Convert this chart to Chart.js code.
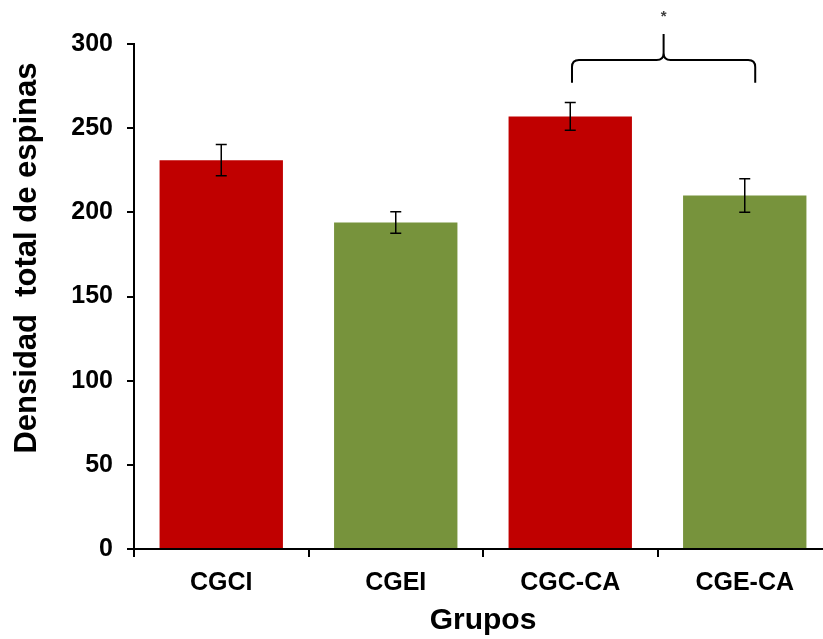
<!DOCTYPE html>
<html>
<head>
<meta charset="utf-8">
<script src="https://cdn.jsdelivr.net/npm/chart.js@4/dist/chart.umd.min.js"></script>
<style>
  html, body { margin: 0; padding: 0; background: #fff; overflow: hidden; }
  #wrap { width: 840px; height: 639px; position: relative; }
</style>
</head>
<body>
<div id="wrap"><canvas id="c"></canvas></div>
<script>
// ---- data ----
const categories = ['CGCI', 'CGEI', 'CGC-CA', 'CGE-CA'];
const values = [231, 194, 257, 210];
const errors = [9.3, 6.4, 8.2, 9.9];
const barColors = ['#C00000', '#77933C', '#C00000', '#77933C'];
const yTickValues = [0, 50, 100, 150, 200, 250, 300];
const yTitle = 'Densidad  total de espinas';
const xTitle = 'Grupos';
// significance brace between CGC-CA and CGE-CA (category positions, value levels)
const braceFrom = 2.01, braceTo = 3.06;
const braceEndValue = 277, braceLineValue = 290.5, bracePeakValue = 306, starValue = 318;
const starText = '*';

const FONT = '"Liberation Sans", Arial, sans-serif';

const errorBars = {
  id: 'errorBars',
  afterDatasetsDraw(chart) {
    const ctx = chart.ctx;
    const y = chart.scales.y;
    const meta = chart.getDatasetMeta(0);
    ctx.save();
    ctx.strokeStyle = '#000';
    ctx.lineWidth = 1.5;
    meta.data.forEach((bar, i) => {
      const x = bar.x;
      const yt = y.getPixelForValue(values[i] + errors[i]);
      const yb = y.getPixelForValue(values[i] - errors[i]);
      ctx.beginPath();
      ctx.moveTo(x, yt); ctx.lineTo(x, yb);
      ctx.moveTo(x - 5.5, yt); ctx.lineTo(x + 5.5, yt);
      ctx.moveTo(x - 5.5, yb); ctx.lineTo(x + 5.5, yb);
      ctx.stroke();
    });
    ctx.restore();
  }
};

const annotations = {
  id: 'annotations',
  afterDraw(chart) {
    const ctx = chart.ctx;
    const xs = chart.scales.x, ys = chart.scales.y;
    // y axis title
    ctx.save();
    ctx.fillStyle = '#000';
    ctx.font = 'bold 31px ' + FONT;
    ctx.textAlign = 'center';
    ctx.textBaseline = 'middle';
    ctx.translate(27, 258);
    ctx.rotate(-Math.PI / 2);
    ctx.fillText(yTitle, 0, 0);
    ctx.restore();

    // brace
    const x1 = xs.getPixelForValue(braceFrom);
    const x2 = xs.getPixelForValue(braceTo);
    const xm = (x1 + x2) / 2;
    const yE = ys.getPixelForValue(braceEndValue);
    const yH = ys.getPixelForValue(braceLineValue);
    const yP = ys.getPixelForValue(bracePeakValue);
    const r = 7;
    ctx.save();
    ctx.strokeStyle = '#000';
    ctx.lineWidth = 2;
    ctx.beginPath();
    ctx.moveTo(x1, yE);
    ctx.lineTo(x1, yH + r);
    ctx.quadraticCurveTo(x1, yH, x1 + r, yH);
    ctx.lineTo(xm - r, yH);
    ctx.quadraticCurveTo(xm, yH, xm, yH - r);
    ctx.lineTo(xm, yP);
    ctx.moveTo(xm, yH - r);
    ctx.quadraticCurveTo(xm, yH, xm + r, yH);
    ctx.lineTo(x2 - r, yH);
    ctx.quadraticCurveTo(x2, yH, x2, yH + r);
    ctx.lineTo(x2, yE);
    ctx.stroke();
    ctx.fillStyle = '#404040';
    ctx.font = 'bold 15px ' + FONT;
    ctx.textAlign = 'center';
    ctx.textBaseline = 'middle';
    ctx.fillText(starText, xm, ys.getPixelForValue(starValue) + 3);
    ctx.restore();
  }
};

new Chart(document.getElementById('c'), {
  type: 'bar',
  data: {
    labels: categories,
    datasets: [{
      data: values,
      backgroundColor: barColors,
      borderWidth: 0,
      categoryPercentage: 1.0,
      barPercentage: 0.707
    }]
  },
  options: {
    responsive: true,
    maintainAspectRatio: false,
    animation: false,
    devicePixelRatio: 1,
    layout: { padding: { top: 44, right: 8, bottom: 0, left: 0 } },
    plugins: { legend: { display: false }, tooltip: { enabled: false } },
    scales: {
      x: {
        afterFit: s => { s.height = 90; },
        grid: { display: true, drawOnChartArea: false, color: '#000', lineWidth: 2, tickLength: 8, offset: true },
        border: { display: true, color: '#000', width: 2 },
        ticks: { color: '#000', font: { family: FONT, size: 25, weight: 'bold' }, padding: 11 },
        title: { display: true, text: xTitle, color: '#000', font: { family: FONT, size: 30, weight: 'bold' }, padding: { top: 0, bottom: 0 } }
      },
      y: {
        min: 0, max: 300,
        afterFit: s => { s.width = 134; },
        afterBuildTicks: s => { s.ticks = yTickValues.map(v => ({ value: v })); },
        grid: { display: true, drawOnChartArea: false, color: '#000', lineWidth: 2, tickLength: 7 },
        border: { display: true, color: '#000', width: 2 },
        ticks: { color: '#000', font: { family: FONT, size: 25, weight: 'bold' }, padding: 14 }
      }
    }
  },
  plugins: [errorBars, annotations]
});
</script>
</body>
</html>
